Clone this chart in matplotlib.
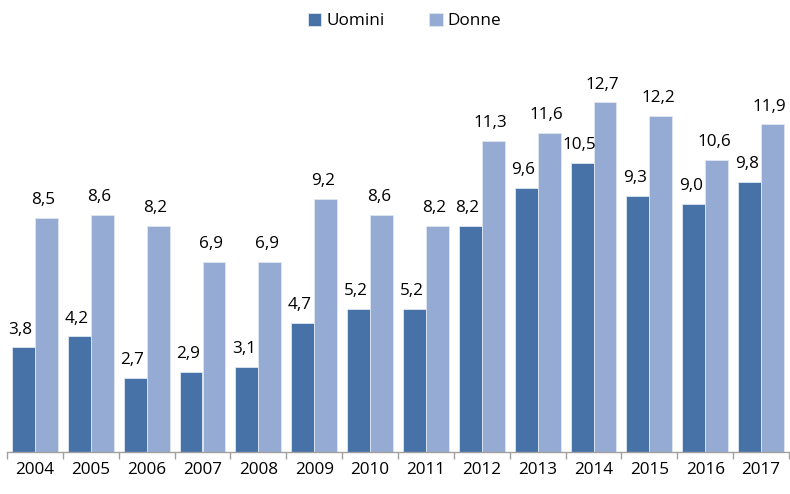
import matplotlib
matplotlib.use("Agg")
import matplotlib.pyplot as plt
import numpy as np

years = ["2004", "2005", "2006", "2007", "2008", "2009", "2010", "2011",
         "2012", "2013", "2014", "2015", "2016", "2017"]
uomini = [3.8, 4.2, 2.7, 2.9, 3.1, 4.7, 5.2, 5.2, 8.2, 9.6, 10.5, 9.3, 9.0, 9.8]
donne = [8.5, 8.6, 8.2, 6.9, 6.9, 9.2, 8.6, 8.2, 11.3, 11.6, 12.7, 12.2, 10.6, 11.9]

plt.rcParams['font.family'] = ['Open Sans', 'DejaVu Sans']

c_u = "#4672A8"
c_d = "#95ABD4"

fig = plt.figure(figsize=(7.9, 4.94), dpi=100)
ax = fig.add_axes([7/790, 42/494, 782/790, 402/494])

x = np.arange(len(years))
w = 0.41
b1 = ax.bar(x - w/2, uomini, w, color=c_u, edgecolor="#dfe6f0", linewidth=0.6, label="Uomini")
b2 = ax.bar(x + w/2, donne, w, color=c_d, edgecolor="#dfe6f0", linewidth=0.6, label="Donne")

fs = 12.3
for xi, v in zip(x, uomini):
    ax.annotate(f"{v:.1f}".replace(".", ","), (xi - w/2, v), xytext=(-2, 7),
                textcoords="offset points", ha="center", va="bottom", fontsize=fs)
for xi, v in zip(x, donne):
    ax.annotate(f"{v:.1f}".replace(".", ","), (xi + w/2, v), xytext=(-2, 7),
                textcoords="offset points", ha="center", va="bottom", fontsize=fs)

ax.set_xlim(-0.5, len(years) - 0.5)
ax.set_ylim(0, 14.6)
ax.set_xticks(x)
ax.set_xticklabels(years, fontsize=fs)
ax.set_xticks(np.arange(-0.5, len(years)), minor=True)
ax.tick_params(axis="x", which="major", length=0, pad=7)
ax.tick_params(axis="x", which="minor", length=5, color="#a0a0a0", width=1)
ax.set_yticks([])
for s in ["top", "right", "left"]:
    ax.spines[s].set_visible(False)
ax.spines["bottom"].set_color("#a0a0a0")
ax.spines["bottom"].set_linewidth(1)

fig.legend(handles=[b1, b2], labels=["Uomini", "Donne"], loc="upper center",
           bbox_to_anchor=(0.512, 1.005), ncol=2, frameon=False, fontsize=fs,
           handlelength=0.8, handleheight=0.8, handletextpad=0.3, columnspacing=2.6)

fig.savefig("out.png", dpi=100)
